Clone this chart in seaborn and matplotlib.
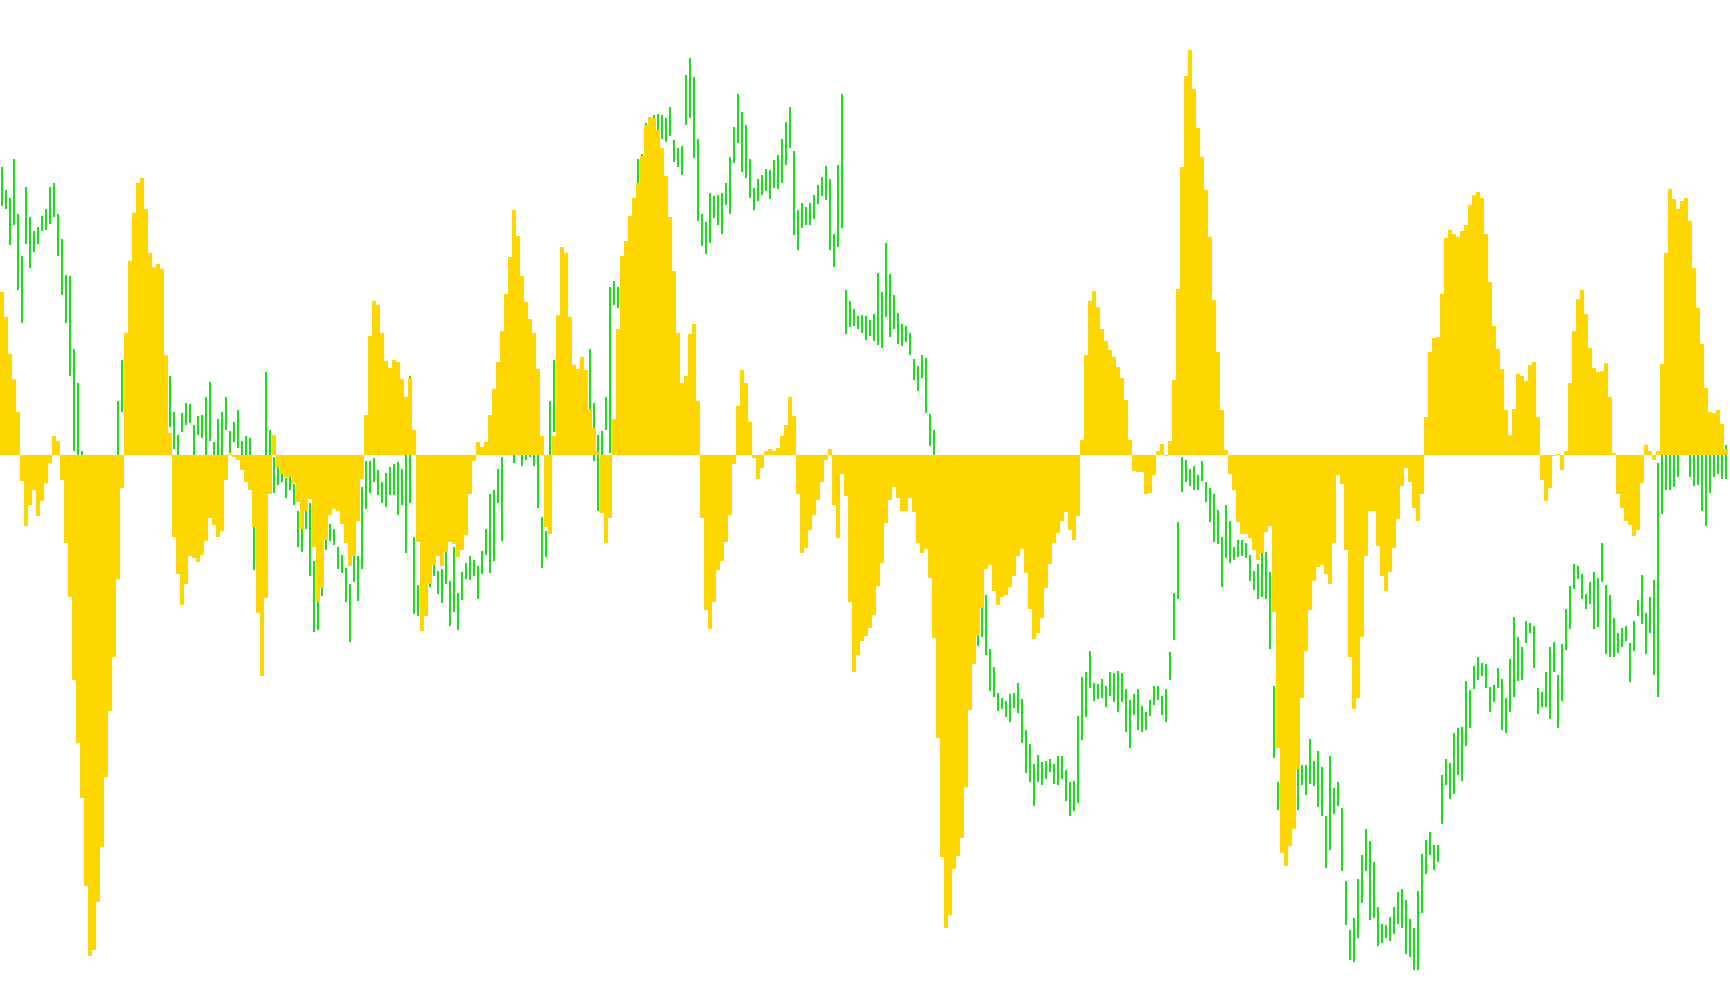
import numpy as np
import pandas as pd
import matplotlib
matplotlib.use("Agg")
import matplotlib.pyplot as plt
import seaborn as sns

# --- data: one entry per bar ---
# oscillator histogram (drawn on top, gold)
hist_vals = [
    264, 223, 163, 123, 70, -42, -114, -80, -57, -98, -75, -46, -13, 30, 23, -40, -142, -230,
    -363, -465, -554, -697, -810, -800, -723, -633, -520, -413, -327, -201, -54, 198, 314, 391,
    440, 447, 398, 327, 304, 309, 301, 162, 36, -133, -192, -242, -209, -163, -167, -173, -162,
    -139, -101, -113,
    -133, -123, -41, 2, -3, -8, -25, -44, -56, -116, -256, -358, -231, -63, 33, -20, -30, -36,
    -35, -45, -76, -120, -90, -71, -149, -238, -215, -138, -97, -87, -90, -111, -143, -180, -164,
    -107, -39, 64, 193, 249, 242, 197, 152, 141, 153, 150, 123, 93, 124, 40, -140, -285, -260, -208,
    -178, -164, -179, -157, -141, -144, -165, -153, -129, -63, -9, 21, 13, 21, 65, 106, 150, 201,
    261, 320, 396, 354, 290, 248, 220, 197, 139, 30, -117, -127, 30, 227, 337, 326, 223, 145, 139,
    158, 137, 74, 44, 5, -94, -142, -101, 59, 203, 322, 346, 387, 416, 440, 484, 534,
    547, 545, 526, 497, 451, 385, 297, 198, 117, 128, 195, 212, 88, -101, -251, -281, -237, -186,
    -172, -141, -97, -14, 80, 138, 117, 53, -5, -39, -21, 6, 9, 6, 12, 30, 49, 93, 63, -63, -158,
    -150, -122, -97, -73, -43, -8, 10, -81, -134, -31, -67, -237, -350, -323, -301,
    -292, -280, -259, -211, -175, -110, -73, -51, -69, -90, -91, -69, -92, -142, -158, -152, -198,
    -295, -458, -649, -764, -744, -669, -648, -619, -537, -412, -337, -293, -247, -185, -177, -220,
    -242, -230, -226, -214, -195, -163, -152, -191, -249, -297, -287, -263, -215, -176, -142, -126,
    -107, -92, -121, -137, -99,
    25, 162, 249, 265, 239, 204, 184, 169, 158, 143, 124, 89, 25, -26, -28, -28, -63, -62, -33, 6,
    18, -2, 23, 122, 269, 466, 613, 654, 591, 529, 482, 428, 353, 251, 166, 72, 8, -30, -57, -108,
    -128, -128, -134, -154, -170, -158, -124, -114, -253, -474, -644, -664, -632, -604,
    -507, -392, -316, -250, -203, -181, -178, -192, -208, -143, -33, -47, -154, -326, -411, -392,
    -294, -163, -90, -91, -147, -195, -220, -189, -150, -103, -50, -21, -44, -86, -106, -63, 61,
    167, 189, 191, 260, 350, 363, 357, 352, 362, 372, 404, 420, 425, 415, 358, 279, 208, 172, 139,
    73, 33,
    74, 131, 127, 119, 145, 151, 62, -40, -74, -53, -2, 2, -25, 7, 117, 201, 252, 266, 228, 173,
    140, 135, 136, 148, 94, 4, -63, -85, -107, -113, -131, -121, -45, 17, 6, -8, 7, 147, 327, 430,
    414, 397, 410, 416, 379, 303, 237, 180, 109, 69, 68, 72, 50, 9,
]

# price bars (drawn behind, green): high and low of each bar
price_high = [
    1379, 1342, 1329, 1392, 1302, 1235, 1347, 1298, 1275, 1281, 1299, 1310, 1346, 1352, 1303, 1262,
    1204, 1202, 1084, 1030, 920, 900, 880, 870, 880, 900, 900, 910, 910, 1000, 1066, 1040, 1040,
    1060, 1050, 1040, 1040, 1030, 1040, 1030, 1040, 1040, 1040, 983, 946, 981, 997, 996, 962, 976,
    977, 1007, 1031, 934,
    972, 982, 1007, 952, 967, 986, 935, 943, 941, 840, 780, 840, 1047, 954, 910, 895, 899, 876,
    897, 866, 822, 801, 872, 835, 742, 700, 750, 800, 802, 794, 764, 752, 731, 704, 749, 750, 861,
    904, 903, 908, 888, 870, 884, 893, 899, 901, 891, 930, 1040, 781, 703, 720, 730, 740,
    748, 725, 729, 760, 710, 764, 690, 724, 738, 749, 743, 733, 758, 793, 850, 856, 891, 910, 1000,
    1020, 1010, 1000, 990, 980, 970, 960, 920, 813, 790, 1000, 1067, 1130, 1200, 1180, 1120, 1050,
    1040, 1060, 1040, 1085, 997, 946, 952, 1006, 1185, 1194, 1185, 1220, 1257, 1300, 1320, 1391,
    1400, 1450,
    1460, 1463, 1465, 1463, 1458, 1476, 1422, 1409, 1412, 1528, 1554, 1524, 1424, 1302, 1289, 1336,
    1332, 1333, 1337, 1352, 1394, 1443, 1496, 1467, 1447, 1392, 1345, 1359, 1365, 1376, 1374, 1390,
    1398, 1424, 1452, 1475, 1404, 1309, 1321, 1314, 1321, 1333, 1349, 1362, 1380, 1359, 1270, 1381,
    1496, 1179, 1162, 1149, 1138, 1139,
    1137, 1131, 1141, 1207, 1177, 1255, 1206, 1172, 1143, 1125, 1121, 1110, 1068, 1057, 1075, 1070,
    979, 953, 900, 860, 830, 800, 770, 740, 720, 700, 690, 670, 633, 689, 686, 599, 570, 528, 520,
    516, 526, 529, 545, 518, 469, 446, 413, 428, 416, 418, 422, 413, 426, 426, 404, 385, 386, 491,
    554, 562, 597, 545, 543, 551, 539, 563, 560, 564, 560, 535, 517, 526, 534, 508, 497, 517, 540,
    539, 524, 535, 594, 690, 805, 910, 905, 891, 896, 881, 904, 870, 860, 850, 824, 781, 832, 807,
    764, 775, 776, 771, 752, 725, 737, 754, 756, 724, 540, 385, 370, 360, 380, 400,
    407, 412, 412, 454, 419, 435, 408, 329, 426, 375, 385, 342, 225, 146, 164, 227, 267, 308, 289,
    255, 182, 155, 153, 167, 182, 207, 211, 194, 163, 148, 208, 268, 290, 304, 283, 283, 395, 421,
    415, 463, 471, 474, 547, 533, 572, 587, 577, 575, 538, 541, 568, 551, 521, 583,
    651, 619, 602, 644, 641, 637, 536, 530, 562, 603, 610, 558, 608, 664, 702, 737, 733, 720, 688,
    707, 724, 715, 770, 703, 687, 649, 625, 633, 637, 609, 644, 678, 719, 658, 683, 711, 900, 950,
    950, 960, 960, 960, 1000, 1000, 980, 980, 980, 960, 940, 940, 950, 950, 920, 930,
]

price_low = [
    1315, 1310, 1253, 1284, 1179, 1127, 1254, 1216, 1241, 1254, 1275, 1276, 1287, 1297, 1234, 1172,
    1127, 1040, 920, 900, 840, 810, 800, 780, 790, 810, 830, 840, 850, 880, 982, 960, 960, 980, 970,
    960, 950, 950, 960, 950, 950, 950, 958, 922, 900, 950, 962, 964, 900, 946, 940, 900, 935, 880,
    880, 900, 953, 917, 934, 925, 900, 900, 900, 727, 680, 700, 840, 894, 852, 864, 869, 844, 857,
    833, 764, 757, 793, 717, 627, 630, 685, 760, 774, 767, 729, 722, 675, 611, 708, 677, 728, 825,
    852, 870, 849, 835, 829, 848, 848, 816, 832, 755, 836, 656, 652, 650, 670, 700,
    717, 688, 674, 704, 637, 659, 630, 678, 713, 711, 718, 680, 720, 751, 722, 741, 836, 774, 920,
    920, 900, 920, 895, 905, 910, 895, 827, 730, 748, 820, 950, 1040, 1120, 1100, 1040, 980, 970,
    990, 970, 980, 903, 822, 883, 953, 916, 1155, 1150, 1150, 1180, 1220, 1240, 1300, 1320, 1370,
    1400, 1410, 1425, 1424, 1419, 1428, 1387, 1378, 1365, 1447, 1457, 1393, 1291, 1251, 1238, 1255,
    1296, 1284, 1270, 1317, 1302, 1385, 1418, 1370, 1360, 1329, 1309, 1324, 1333, 1340, 1327, 1345,
    1343, 1353, 1382, 1410, 1269, 1244, 1280, 1285, 1285, 1294, 1319, 1332, 1325, 1244, 1217, 1250,
    1280, 1109, 1120, 1122, 1116, 1111,
    1099, 1106, 1098, 1091, 1086, 1136, 1103, 1116, 1093, 1090, 1096, 1074, 1035, 1016, 1037, 981,
    928, 900, 840, 800, 770, 740, 710, 680, 660, 640, 630, 610, 604, 619, 590, 531, 522, 499, 502,
    490, 481, 504, 496, 448, 399, 385, 345, 384, 379, 390, 400, 382, 380, 390, 353, 329, 338, 351,
    452, 489, 536, 516, 518, 520, 505, 523, 513, 497, 514, 465, 439, 492, 468, 466, 469, 491, 509,
    517, 492, 481, 549, 614, 681, 854, 870, 863, 857, 856, 871, 837, 804, 773, 769, 700, 746, 739,
    743, 748, 749, 746, 709, 695, 680, 683, 680, 599, 424, 339, 310, 300, 310, 330,
    340, 379, 363, 381, 378, 344, 329, 245, 274, 333, 345, 241, 154, 97, 94, 132, 189, 241, 161,
    164, 119, 125, 132, 128, 138, 155, 148, 106, 101, 80, 81, 172, 235, 267, 243, 255, 316, 380,
    357, 365, 395, 386, 443, 472, 534, 549, 555, 537, 497, 514, 537, 468, 464, 498,
    522, 547, 550, 609, 625, 568, 494, 505, 506, 487, 563, 471, 516, 598, 631, 696, 713, 680, 664,
    672, 631, 635, 707, 591, 586, 586, 593, 602, 613, 546, 596, 652, 640, 592, 625, 557, 522, 818,
    856, 857, 861, 877, 920, 920, 878, 863, 864, 822, 798, 852, 877, 883, 875, 874,
]

GOLD = "#FFD700"
GREEN = "#1EDC1E"

n = len(hist_vals)
df = pd.DataFrame({
    "bar": np.arange(n),
    "hist": hist_vals,
    "high": price_high,
    "low": price_low,
})

sns.set_style("white")
fig = plt.figure(figsize=(17.3, 10.05), dpi=100)
ax = fig.add_axes([0, 0, 1, 1])

# price bars first so the histogram covers them
ax.vlines(df["bar"], df["low"], df["high"], color=GREEN, linewidth=1.44)
ax.set_ylim(24, 1648.5)

ax2 = ax.twinx()
sns.barplot(data=df, x="bar", y="hist", color=GOLD, saturation=1, width=1.0,
            linewidth=0, errorbar=None, native_scale=True, ax=ax2)
ax2.set_ylim(-889, 735.5)

ax.set_xlim(-0.5, n)
ax.axis("off")
ax2.axis("off")

fig.savefig("out.png", dpi=100, facecolor="white")
